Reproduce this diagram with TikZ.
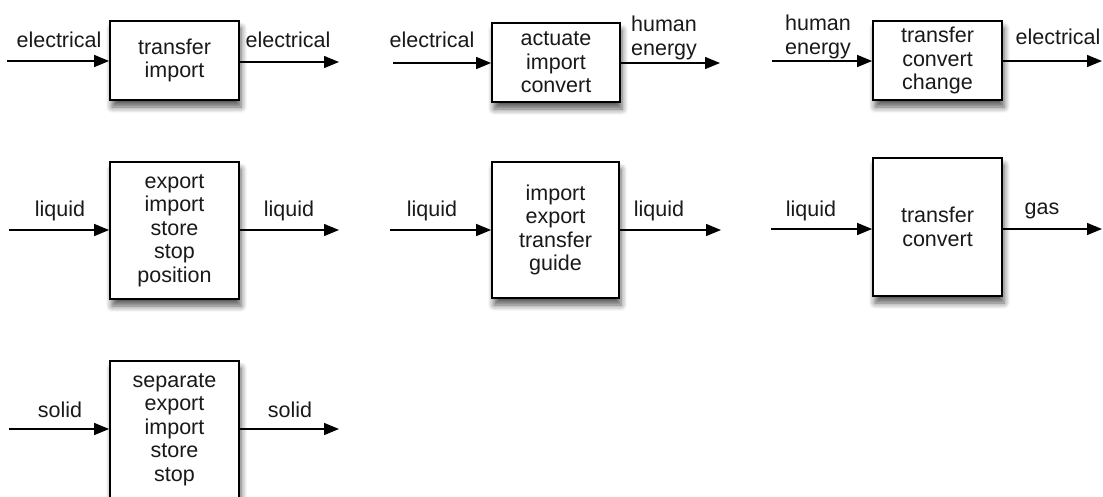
\documentclass[tikz,border=0pt]{standalone}
\usepackage{fontspec}
\setmainfont{Liberation Sans}
\usetikzlibrary{arrows.meta,shadows.blur}
\tikzset{
  box/.style={draw=black, line width=1.8pt, fill=white, align=center,
    font=\fontsize{21.5}{23.5}\selectfont, text=black!90,
    blur shadow={shadow xshift=2pt, shadow yshift=-7pt, shadow blur steps=6, shadow blur radius=6pt, shadow opacity=65}},
  lbl/.style={font=\fontsize{21.5}{23.5}\selectfont, text=black!90, align=center, inner sep=0pt},
  arr/.style={line width=1.4pt, -{Triangle[length=15pt,width=12pt]}},
}
\begin{document}
\begin{tikzpicture}[x=1pt,y=-1pt]
\useasboundingbox (0,0) rectangle (1103,496);
% row 1
\node[box, minimum width=129pt, minimum height=79pt] (b1) at (174.5,60.5) {transfer\\import};
\node[box, minimum width=128pt, minimum height=79pt] (b2) at (556,62.5) {actuate\\import\\convert};
\node[box, minimum width=129pt, minimum height=79pt] (b3) at (937.5,60.5) {transfer\\convert\\change};
% row 2
\node[box, minimum width=129pt, minimum height=137pt] (b4) at (174.5,230.5) {export\\import\\store\\stop\\position};
\node[box, minimum width=127pt, minimum height=136pt] (b5) at (555.5,230) {import\\export\\transfer\\guide};
\node[box, minimum width=129pt, minimum height=138pt] (b6) at (937.5,227) {transfer\\convert};
% row 3
\node[box, minimum width=129pt, minimum height=137pt] (b7) at (174.5,429.5) {separate\\export\\import\\store\\stop};
% endpoints
\coordinate (i1) at (7,61);   \coordinate (o1) at (339,62);
\coordinate (i2) at (393,63); \coordinate (o2) at (720,63);
\coordinate (i3) at (772,61); \coordinate (o3) at (1102,61);
\coordinate (i4) at (9,230);  \coordinate (o4) at (339,230);
\coordinate (i5) at (390,230);\coordinate (o5) at (721,230);
\coordinate (i6) at (771,229);\coordinate (o6) at (1102,229);
\coordinate (i7) at (9,429);  \coordinate (o7) at (339,429);
\foreach \k in {1,...,7}{
  \draw[arr] (i\k) -- (i\k -| b\k.west);
  \draw[arr] (o\k -| b\k.east) -- (o\k);
}
% labels
\node[lbl] (l1a) at (59,40) {electrical};
\node[lbl] (l1b) at (288,40) {electrical};
\node[lbl] (l2a) at (432,40) {electrical};
\node[lbl] (l2b) at (664,38) {human\\energy};
\node[lbl] (l3a) at (818,37) {human\\energy};
\node[lbl] (l3b) at (1058,37) {electrical};
\node[lbl] (l4a) at (60,211) {liquid};
\node[lbl] (l4b) at (289,211) {liquid};
\node[lbl] (l5a) at (432,211) {liquid};
\node[lbl] (l5b) at (659,211) {liquid};
\node[lbl] (l6a) at (811,211) {liquid};
\node[lbl] (l6b) at (1042,211) {gas};
\node[lbl] (l7a) at (60,410) {solid};
\node[lbl] (l7b) at (290,410) {solid};
\end{tikzpicture}
\end{document}
